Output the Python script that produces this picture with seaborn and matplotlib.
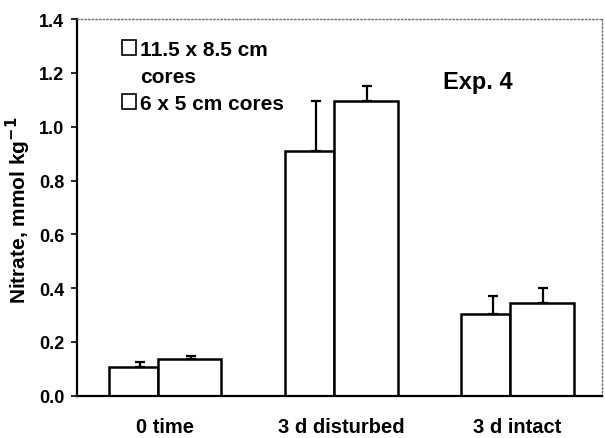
import numpy as np
import pandas as pd
import matplotlib
matplotlib.use("Agg")
import matplotlib.pyplot as plt
import seaborn as sns
from matplotlib.patches import Patch

# values
periods = ["0 time", "3 d disturbed", "3 d intact"]
cores = ["11.5 x 8.5 cm cores", "6 x 5 cm cores"]
nitrate_large = [0.108, 0.91, 0.304]
nitrate_small = [0.136, 1.094, 0.345]
err_large = [0.018, 0.185, 0.066]
err_small = [0.010, 0.058, 0.055]

df = pd.DataFrame({
    "period": periods * 2,
    "core": [cores[0]] * 3 + [cores[1]] * 3,
    "nitrate": nitrate_large + nitrate_small,
})

sns.set_theme(style="white")
plt.rcParams["font.family"] = ["Liberation Sans", "DejaVu Sans"]
plt.rcParams["font.weight"] = "bold"
plt.rcParams["axes.labelweight"] = "bold"
plt.rcParams["text.color"] = "black"
plt.rcParams["axes.labelcolor"] = "black"

fig, ax = plt.subplots(figsize=(6.05, 4.39), dpi=100)
fig.subplots_adjust(left=0.127, right=0.995, bottom=0.0964, top=0.954)

sns.barplot(data=df, x="period", y="nitrate", hue="core", order=periods,
            hue_order=cores, palette=["white", "white"], edgecolor="black",
            linewidth=1.8, width=0.64, legend=False, ax=ax)

# in the original the second bar of each pair is a bit wider
for bar in ax.containers[0]:
    bar.set_width(0.28)
for bar in ax.containers[1]:
    bar.set_x(bar.get_x() - 0.04)
    bar.set_width(0.36)

idx = np.arange(len(periods))
ax.errorbar(idx - 0.14, nitrate_large, yerr=[np.zeros(3), err_large], fmt="none",
            ecolor="black", elinewidth=1.6, capsize=3.5, capthick=1.6, zorder=1)
ax.errorbar(idx + 0.147, nitrate_small, yerr=[np.zeros(3), err_small], fmt="none",
            ecolor="black", elinewidth=1.6, capsize=3.5, capthick=1.6, zorder=1)

ax.set_xlim(-0.5, 2.48)
ax.set_ylim(0, 1.4)
ax.set_yticks(np.arange(0, 1.41, 0.2))
ax.set_yticklabels([f"{v:.1f}" for v in np.arange(0, 1.41, 0.2)])
ax.tick_params(axis="y", which="major", left=True, length=4, width=1.2,
               direction="out", pad=5, labelsize=13, colors="black")
ax.tick_params(axis="x", bottom=False, pad=9, labelsize=14.5, colors="black")
for lab in ax.get_xticklabels() + ax.get_yticklabels():
    lab.set_fontweight("bold")

ax.set_xlabel("")
ax.set_ylabel("Nitrate, mmol kg$^{\\mathbf{-1}}$", fontsize=15, fontweight="bold")
ax.yaxis.set_label_coords(-0.083, 0.496)

for side in ["left", "bottom"]:
    ax.spines[side].set_color("black")
    ax.spines[side].set_linewidth(1.6)
for side in ["top", "right"]:
    ax.spines[side].set_color("0.45")
    ax.spines[side].set_linewidth(1.0)
    ax.spines[side].set_linestyle(":")

ax.text(0.764, 0.835, "Exp. 4", transform=ax.transAxes, fontsize=17,
        fontweight="bold", ha="center", va="center")

box = Patch(facecolor="white", edgecolor="black", linewidth=1.2)
blank = Patch(facecolor="none", edgecolor="none")
ax.legend([box, blank, box], ["11.5 x 8.5 cm", "cores", "6 x 5 cm cores"],
          loc="upper left", bbox_to_anchor=(0.086, 0.945), frameon=False,
          borderpad=0, borderaxespad=0, handlelength=0.65, handleheight=0.7,
          handletextpad=0.2, labelspacing=0.38,
          prop={"size": 15, "weight": "bold"})

fig.savefig("out.png", dpi=100)
